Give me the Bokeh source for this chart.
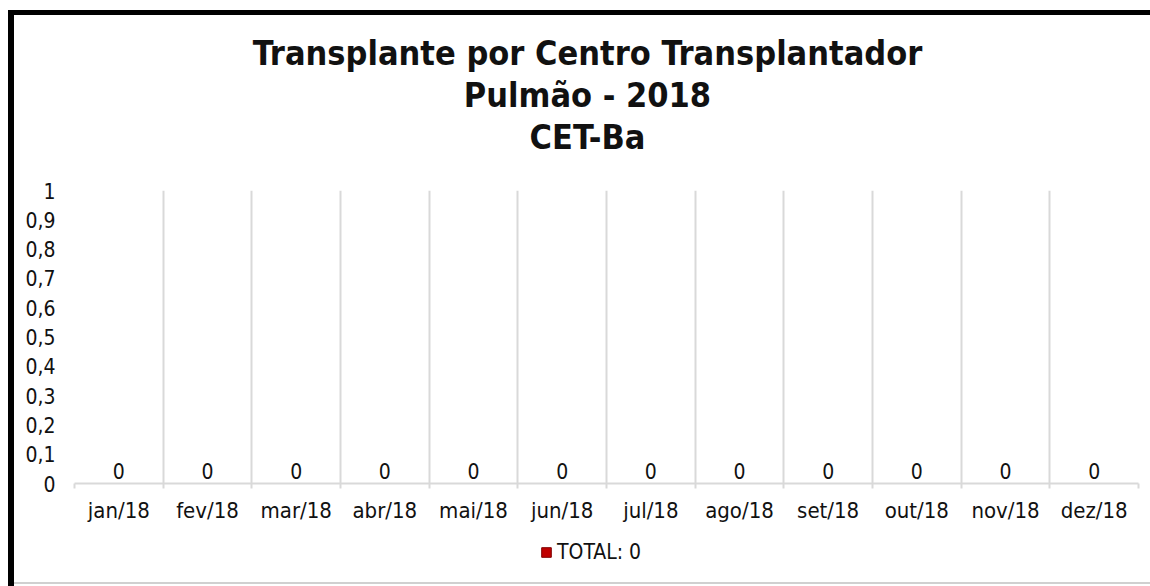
from bokeh.plotting import figure
from bokeh.models import (ColumnDataSource, Range1d, FixedTicker, Grid,
                          Legend, LegendItem, Label, Spacer)
from bokeh.layouts import column, row
from bokeh.core.properties import value
from bokeh.embed import file_html
from bokeh.resources import INLINE

months = ["jan/18", "fev/18", "mar/18", "abr/18", "mai/18", "jun/18",
          "jul/18", "ago/18", "set/18", "out/18", "nov/18", "dez/18"]
totals = [0, 0, 0, 0, 0, 0, 0, 0, 0, 0, 0, 0]
y_ticks = [0, 0.1, 0.2, 0.3, 0.4, 0.5, 0.6, 0.7, 0.8, 0.9, 1]
y_tick_labels = ["0", "0,1", "0,2", "0,3", "0,4", "0,5", "0,6", "0,7", "0,8", "0,9", "1"]
title_lines = ["Transplante por Centro Transplantador", "Pulmão - 2018", "CET-Ba"]
legend_label = "TOTAL: " + str(sum(totals))

FONT = "DejaVu Sans Condensed"
GRID = "#d9d9d9"
TXT = "#111111"
W = 1136
BL, BR = 60, 12  # left / right borders of the chart frame (strips align to them)

n = len(months)
centers = [i + 0.5 for i in range(n)]
bounds = list(range(n + 1))

src = ColumnDataSource(dict(x=centers, month=months, total=totals,
                            lbl=[str(v) for v in totals]))

# ---- title strip (frame aligned with main chart frame; data units = canvas px) ----
TH = 163
pt = figure(width=W, height=TH, x_range=Range1d(BL, W - BR), y_range=Range1d(0, TH),
            output_backend="svg", toolbar_location=None,
            x_axis_type=None, y_axis_type=None, min_border=0,
            min_border_left=BL, min_border_right=BR,
            background_fill_color="white", border_fill_color="white")
pt.outline_line_color = None
pt.xgrid.visible = False
pt.ygrid.visible = False
for t, yb in zip(title_lines, [126, 84, 42]):
    pt.add_layout(Label(x=573, y=yb, text=t, text_align="center",
                        text_baseline="alphabetic", text_font=FONT,
                        text_font_size="34px", text_font_style="bold",
                        text_color=TXT))

# ---- main chart ----
p = figure(x_range=Range1d(0, n), y_range=Range1d(0, 1),
           width=W, height=355, output_backend="svg", toolbar_location=None,
           min_border_left=BL, min_border_right=BR, min_border_top=12, min_border_bottom=50,
           background_fill_color="white", border_fill_color="white")
p.outline_line_color = None
p.title.visible = False

p.vbar(x="x", top="total", width=0.6, source=src, fill_color="#C00000",
       line_color="#800000")
p.text(x="x", y="total", text="lbl", source=src, text_align="center",
       text_baseline="alphabetic", y_offset=-13, text_font=value(FONT),
       text_font_size="21px", text_color=TXT)

p.yaxis.ticker = FixedTicker(ticks=y_ticks)
p.yaxis.major_label_overrides = {t: l for t, l in zip(y_ticks, y_tick_labels)}
p.yaxis.axis_line_color = None
p.yaxis.major_tick_line_color = None
p.yaxis.minor_tick_line_color = None
p.yaxis.major_tick_in = 0
p.yaxis.major_tick_out = 0
p.yaxis.major_label_text_font = FONT
p.yaxis.major_label_text_font_size = "21px"
p.yaxis.major_label_text_color = TXT
p.yaxis.major_label_standoff = 19

xax = p.xaxis[0]
xax.ticker = FixedTicker(ticks=centers, minor_ticks=bounds)
xax.major_label_overrides = {c: m for c, m in zip(centers, months)}
xax.axis_line_color = GRID
xax.axis_line_width = 2
xax.major_tick_line_color = None
xax.major_tick_in = 0
xax.major_tick_out = 5
xax.minor_tick_line_color = GRID
xax.minor_tick_line_width = 2
xax.minor_tick_in = 0
xax.minor_tick_out = 5
xax.major_label_text_font = FONT
xax.major_label_text_font_size = "22px"
xax.major_label_text_color = TXT
xax.major_label_standoff = 9

p.xgrid.visible = False
p.ygrid.visible = False
p.add_layout(Grid(dimension=0, ticker=FixedTicker(ticks=bounds),
                  grid_line_color=GRID, grid_line_width=2))

# ---- legend strip ----
pl = figure(width=W, height=38, x_range=Range1d(0, n), y_range=Range1d(0, 1),
            output_backend="svg", toolbar_location=None,
            x_axis_type=None, y_axis_type=None, min_border=0,
            min_border_left=BL, min_border_right=BR,
            background_fill_color="white", border_fill_color="white")
pl.outline_line_color = None
pl.xgrid.visible = False
pl.ygrid.visible = False
rl = pl.vbar(x="x", top="total", width=0.6, source=src, fill_color="#C00000",
             line_color="#800000")
legend = Legend(items=[LegendItem(label=legend_label, renderers=[rl])],
                orientation="horizontal", location=(466, 7),
                border_line_color=None, background_fill_alpha=0,
                label_text_font=FONT, label_text_font_size="21px",
                label_text_color=TXT, glyph_width=12, glyph_height=12,
                label_standoff=5, padding=0, margin=0, spacing=0)
pl.add_layout(legend, "center")

black = {"background-color": "black"}
inner = column(
    Spacer(width=W, height=5, styles=black),
    pt, p, pl,
    Spacer(width=W, height=11),
    Spacer(width=W, height=2, styles={"background-color": "#d0d0d0"}),
    Spacer(width=W, height=2),
)
layout = column(
    Spacer(width=1150, height=10),
    row(Spacer(width=8, height=576), Spacer(width=6, height=576, styles=black), inner),
)

open("out.html", "w").write(file_html(layout, INLINE))
